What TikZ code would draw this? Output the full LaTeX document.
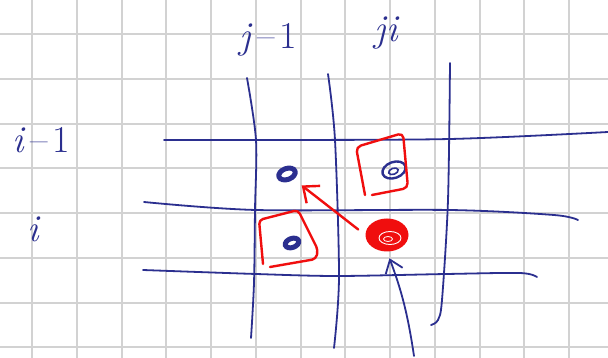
\documentclass[tikz,border=0pt]{standalone}
\usepackage{amsfonts, amsmath, amssymb}
\usepackage{tikz}
\usepackage{color}
\usetikzlibrary{shapes.geometric,arrows.meta}
\definecolor{penblue}{RGB}{43,47,143}
\definecolor{penred}{RGB}{240,14,14}
\definecolor{paper}{RGB}{210,210,210}

\begin{document}
\begin{tikzpicture}[x=1pt,y=-1pt,
  gridline/.style={draw=paper,line width=2pt},
  blueline/.style={draw=penblue,line width=1.8pt,line cap=round},
  redline/.style={draw=penred,line width=2.4pt,line cap=round,line join=round},
  bluedot/.style={ellipse,draw=penblue,line width=5pt,minimum width=17pt,minimum height=11pt,inner sep=0pt,rotate=20},
  bluering/.style={ellipse,draw=penblue,line width=2.4pt,minimum width=24pt,minimum height=16pt,inner sep=0pt,rotate=20},
  redblob/.style={ellipse,fill=penred,minimum width=43pt,minimum height=33pt,inner sep=0pt},
  lbl/.style={text=penblue,font=\fontsize{38}{38}\selectfont\itshape}]
\useasboundingbox (0,0) rectangle (608,358);
\fill[white] (0,0) rectangle (608,358);
%plot the grid paper
\foreach \gx in {0,...,12}
  \draw[gridline] ({32+44.75*\gx},0) -- ({32+44.75*\gx},358);
\foreach \gy in {0,...,7}
  \draw[gridline] (0,{34.3+44.7*\gy}) -- (608,{34.3+44.7*\gy});

%plot the mesh
%rows
\draw[blueline] plot[smooth] coordinates {(164,140) (256,140) (450,139) (608,132)};
\draw[blueline] plot[smooth] coordinates {(144,202) (256,210) (450,210) (554,215) (578,220)};
\draw[blueline] plot[smooth] coordinates {(143,270) (256,274) (337,276) (446,274) (520,273) (537,277)};
%columns
\draw[blueline] plot[smooth] coordinates {(247,78) (256,140) (255,210) (254,283) (251,338)};
\draw[blueline] plot[smooth] coordinates {(328,74) (335,140) (339,277) (334,348)};
\draw[blueline] plot[smooth] coordinates {(450,63) (448,200) (442,300) (438,320) (431,325)};

%put nodes
\node[bluedot] (dotA) at (287,174) {};
\node[bluering] (dotB) at (394,170) {};
\draw[penblue,line width=1.6pt,rotate around={20:(dotB.center)}] ([shift={(-1,1)}]dotB.center) ellipse (5 and 3);
\node[bluedot,minimum width=14pt,minimum height=9pt] (dotC) at (292,243) {};
\node[redblob] (blob) at (387,235) {};
\draw[white,line width=0.9pt] ([shift={(3,3)}]blob.center) ellipse (11 and 6.5);
\draw[white,line width=0.8pt] ([shift={(1,4)}]blob.center) ellipse (4.5 and 2.5);
\coordinate (pen) at (414,356);

%boxes
\draw[redline,rounded corners=5pt] (365,195) -- (356,147) -- (403,133) -- (408,188) -- (372,195);
\draw[redline,rounded corners=4pt] (263,264) -- (259,220) -- (298,210) -- (318,250) -- (316,259) -- (270,267);

%arrows
\draw[redline,-{Straight Barb[length=13pt,width=22pt]},shorten <=9pt,shorten >=10pt] (blob.west) -- (dotA);
\draw[blueline,-{Straight Barb[length=12pt,width=18pt]},shorten >=7pt] (pen) to[bend right=6] (blob.south);

%label
\node[lbl] (colA) at (268,40) {j\hspace{7pt}\upshape{--}\hspace{4pt}1};
\node[lbl] (colB) at (386,33) {ji};
\node[lbl] (rowA) at (41,140) {i\hspace{7pt}\upshape{--}\hspace{4pt}1};
\node[lbl] (rowB) at (33,229) {i};
\end{tikzpicture}
\end{document}
